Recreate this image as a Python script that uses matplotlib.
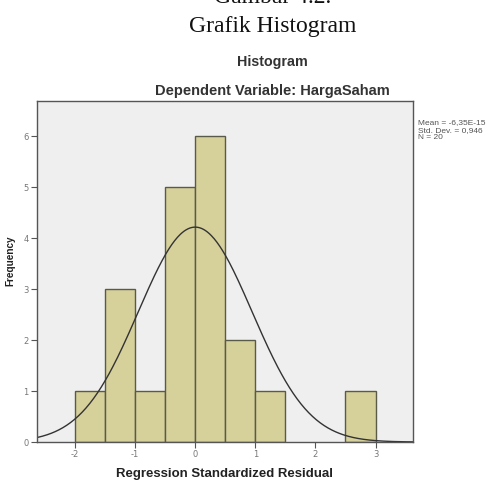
import numpy as np
import matplotlib.pyplot as plt

# Histogram data (bin edges and counts)
bin_edges = [-2.0, -1.5, -1.0, -0.5, 0.0, 0.5, 1.0, 1.5, 2.0, 2.5, 3.0]
counts = [1, 3, 1, 5, 6, 2, 1, 0, 0, 1]
mean_val = -6.35e-15
std_dev = 0.946
n_obs = 20
x_ticks = [-2, -1, 0, 1, 2, 3]
y_ticks = [0, 1, 2, 3, 4, 5, 6]

fig = plt.figure(figsize=(5.01, 4.86), dpi=100)
ax = fig.add_axes([0.074, 0.0905, 0.750, 0.7015])
ax.set_facecolor('#efefef')

lefts = np.array(bin_edges[:-1])
widths = np.diff(bin_edges)
for x0, w, c in zip(lefts, widths, counts):
    if c > 0:
        ax.bar(x0, c, width=w, align='edge', color='#d6d09b',
               edgecolor='#5a5a48', linewidth=1.0)

# Normal curve scaled to counts
xs = np.linspace(-2.7, 3.7, 400)
bw = 0.5
ys = n_obs * bw / (std_dev * np.sqrt(2 * np.pi)) * np.exp(-0.5 * ((xs - mean_val) / std_dev) ** 2)
ax.plot(xs, ys, color='#333333', linewidth=1.0)

ax.set_xlim(-2.63, 3.62)
ax.set_ylim(0, 6.69)
ax.set_xticks(x_ticks)
ax.set_yticks(y_ticks)
ax.set_xticklabels([str(t) for t in x_ticks], fontsize=6, color='#777777')
ax.set_yticklabels([str(t) for t in y_ticks], fontsize=6, color='#777777')
ax.tick_params(direction='out', length=4, width=0.8, colors='#555555',
               labelcolor='#777777', pad=2)
for s in ax.spines.values():
    s.set_color('#555555')
    s.set_linewidth(1.0)

ax.set_xlabel('Regression Standardized Residual', fontsize=9.5, fontweight='bold',
              family='Liberation Sans', color='#222222', labelpad=6)
ax.set_ylabel('Frequency', fontsize=7.2, fontweight='bold',
              family='Liberation Sans', color='#222222')
ax.yaxis.set_label_coords(-0.058, 0.532)

fig.text(0.543, 0.872, 'Histogram', ha='center', va='center', fontsize=10.3,
         fontweight='bold', family='Liberation Sans', color='#333333')
fig.text(0.543, 0.813, 'Dependent Variable: HargaSaham', ha='center', va='center',
         fontsize=10.5, fontweight='bold', family='Liberation Sans', color='#333333')

fig.text(0.544, 0.934, 'Grafik Histogram', ha='center', va='baseline', fontsize=17,
         family='Liberation Serif', color='#111111')
# caption above is cropped off at the top in the source page
fig.text(0.544, 0.994, 'Gambar 4.2.', ha='center', va='baseline', fontsize=17,
         family='Liberation Serif', color='#111111')

fig.text(0.834, 0.755,
         'Mean = -6,35E-15\nStd. Dev. = 0,946\nN = %d' % n_obs,
         ha='left', va='top', fontsize=6, family='Liberation Sans',
         color='#555555', linespacing=1.1)

fig.savefig('out.png', dpi=100)
